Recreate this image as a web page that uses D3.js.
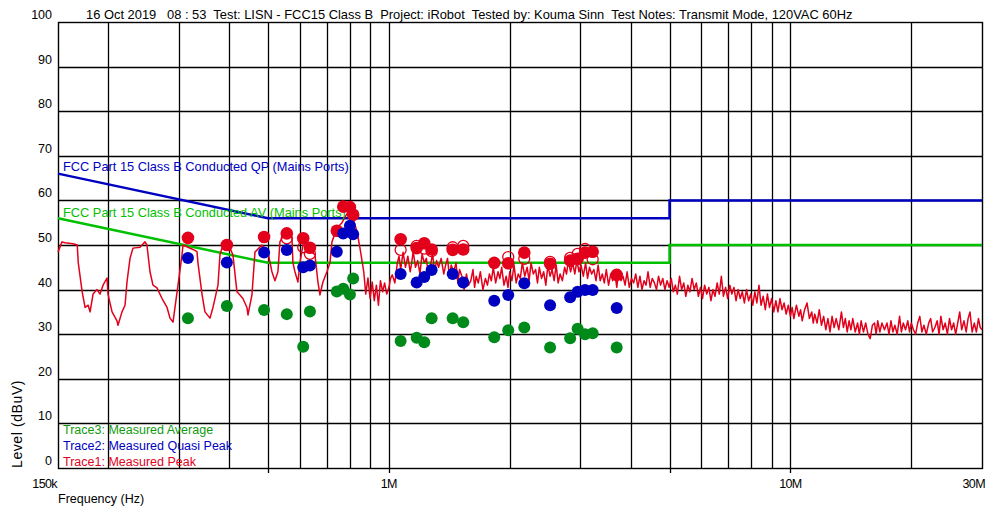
<!DOCTYPE html>
<html>
<head>
<meta charset="utf-8">
<script src="https://cdn.jsdelivr.net/npm/d3@7"></script>
<style>
  body { margin: 0; background: #fff; }
  svg text { font-family: "Liberation Sans", Arial, sans-serif; white-space: pre; }
</style>
</head>
<body>
<div id="chart"></div>
<script>
/// CONDUCTED EMISSIONS PLOT ///
const titleText =
  "16 Oct 2019   08 : 53  Test: LISN - FCC15 Class B  Project: iRobot  Tested by: Kouma Sinn  Test Notes: Transmit Mode, 120VAC 60Hz";

// axis ticks (MHz / dBuV)
const yTicks = [0, 10, 20, 30, 40, 50, 60, 70, 80, 90, 100];
const xGrid = [0.2, 0.3, 0.4, 0.5, 0.6, 0.7, 0.8, 0.9, 1, 2, 3, 4, 5, 6, 7, 8, 9, 10, 20];
const xTickLabels = [
  { f: 0.15, label: "150k" },
  { f: 1, label: "1M" },
  { f: 10, label: "10M" },
  { f: 30, label: "30M" },
];
const xTickMarks = [0.5, 1, 5, 10];

// limit lines
const qpLimitFreq = [0.15, 0.5, 5, 5, 30];
const qpLimitLevel = [66, 56, 56, 60, 60];
const avLimitFreq = [0.15, 0.5, 5, 5, 30];
const avLimitLevel = [56, 46, 46, 50, 50];

// Trace1 measured peak sweep, [MHz, dBuV]
const traceLow = [
  [0.15, 48.4], [0.1535, 50.7], [0.1561, 50.5], [0.1636, 50.3], [0.1675, 50.0], [0.1685, 46.0],
  [0.1723, 39.5], [0.1752, 36.0], [0.1783, 36.5], [0.1803, 35.0], [0.1834, 39.0], [0.1876, 40.0],
  [0.1909, 39.0], [0.1942, 41.0], [0.1987, 42.6], [0.1998, 39.0], [0.2045, 35.0], [0.2104, 33.0],
  [0.2116, 32.0], [0.2165, 35.0], [0.2203, 36.5], [0.2228, 41.7], [0.2267, 47.0], [0.2306, 49.3],
  [0.24, 49.5], [0.247, 50.7], [0.2498, 50.0], [0.2542, 44.0], [0.2586, 41.0], [0.2646, 40.4],
  [0.2724, 38.0], [0.2803, 36.0], [0.2851, 33.6], [0.2901, 32.7], [0.2934, 36.0], [0.2985, 41.0],
  [0.3054, 47.8], [0.3072, 50.0], [0.3161, 49.5], [0.3253, 49.0], [0.3328, 48.5], [0.3347, 46.0],
  [0.3425, 39.0], [0.3484, 35.0], [0.3586, 33.6], [0.3648, 36.0], [0.3754, 41.0], [0.3797, 47.8],
  [0.3841, 49.3], [0.393, 49.0], [0.4021, 49.3], [0.409, 47.8], [0.4185, 39.5], [0.4258, 38.8],
  [0.4331, 38.0], [0.4432, 36.0], [0.4458, 34.3], [0.4561, 38.8], [0.4641, 48.4], [0.483, 50.0],
  [0.4999, 48.4], [0.5115, 44.0], [0.5204, 42.0], [0.5294, 44.0], [0.5355, 50.7], [0.5448, 52.0],
  [0.5574, 51.5], [0.5671, 52.0], [0.5737, 51.6], [0.577, 46.0], [0.5836, 44.0], [0.5937, 41.7],
  [0.6006, 46.0], [0.611, 50.0], [0.6288, 50.0], [0.6434, 48.4], [0.6546, 47.8], [0.6659, 41.7],
  [0.6736, 38.8], [0.6853, 41.7], [0.7012, 44.0], [0.7134, 46.0], [0.7217, 50.7], [0.7427, 53.8],
  [0.7643, 55.0], [0.7912, 57.4], [0.8143, 56.0], [0.8331, 53.0], [0.8475, 49.3],
];
const traceMid = [
  [0.866, 44.0], [0.876, 39.0], [0.887, 42.6], [0.898, 38.0], [0.909, 41.7], [0.92, 37.5],
  [0.931, 41.0], [0.942, 36.5], [0.953, 42.0], [0.965, 39.5], [0.976, 41.5], [0.988, 39.0],
  [1.0, 40.4], [1.01, 42.5], [1.02, 43.3], [1.035, 41.5], [1.05, 46.0], [1.06, 47.5],
  [1.07, 44.5], [1.085, 48.4], [1.1, 45.0], [1.115, 47.5], [1.13, 44.0], [1.14, 46.0],
  [1.15, 48.6], [1.165, 45.0], [1.18, 46.5], [1.195, 43.5], [1.21, 48.0], [1.225, 46.0],
  [1.24, 47.0], [1.255, 43.0], [1.27, 45.5], [1.285, 48.0], [1.3, 44.0], [1.315, 46.5],
  [1.33, 45.0], [1.35, 47.0], [1.37, 43.5], [1.385, 45.5], [1.4, 47.0], [1.415, 43.0],
  [1.43, 45.5], [1.45, 44.0], [1.47, 46.0], [1.485, 41.5], [1.5, 44.5], [1.52, 43.0],
  [1.54, 40.0], [1.56, 43.5], [1.58, 41.0], [1.6, 42.0], [1.62, 44.5], [1.635, 40.5],
  [1.65, 43.0], [1.67, 41.5], [1.69, 44.0], [1.715, 40.0], [1.74, 42.5], [1.76, 41.0],
  [1.78, 43.5], [1.8, 42.0], [1.82, 45.0], [1.845, 41.5], [1.87, 44.0], [1.89, 42.5],
  [1.91, 45.0], [1.935, 41.0], [1.96, 43.0], [1.98, 40.5], [2.0, 44.0], [2.025, 42.0],
  [2.05, 45.5], [2.075, 41.5], [2.1, 43.5], [2.125, 42.5], [2.15, 46.0], [2.18, 43.0],
  [2.21, 45.0], [2.235, 42.0], [2.26, 46.0], [2.29, 43.5], [2.32, 44.5], [2.345, 41.5],
  [2.37, 45.0], [2.4, 42.5], [2.43, 44.0], [2.46, 41.0], [2.49, 45.5], [2.52, 43.0],
  [2.55, 44.5], [2.58, 42.0], [2.61, 45.5], [2.64, 41.5], [2.67, 43.5], [2.705, 42.0],
  [2.74, 45.0], [2.77, 43.5], [2.8, 46.5], [2.835, 44.0], [2.87, 46.0], [2.905, 43.5],
  [2.94, 46.5], [2.975, 44.0], [3.01, 45.5], [3.05, 43.0], [3.09, 46.0], [3.125, 42.5],
  [3.16, 45.0], [3.2, 43.5], [3.24, 44.5], [3.28, 42.0], [3.32, 45.5], [3.36, 42.0],
  [3.4, 43.5], [3.44, 41.5], [3.48, 44.5], [3.525, 41.0], [3.57, 43.5], [3.61, 42.0],
  [3.65, 44.0], [3.695, 40.5], [3.74, 44.5], [3.785, 42.0], [3.83, 43.0], [3.875, 41.0],
  [3.92, 44.0], [3.97, 40.5], [4.02, 42.5], [4.07, 41.5], [4.12, 43.5], [4.17, 40.5],
  [4.22, 43.0], [4.27, 40.0], [4.32, 42.0], [4.37, 41.0], [4.42, 44.0], [4.475, 40.5],
  [4.53, 42.5], [4.585, 41.5], [4.64, 40.0], [4.695, 43.0], [4.75, 41.0], [4.81, 42.5],
  [4.87, 40.0], [4.93, 42.0], [4.99, 40.5],
];
const traceHigh = [
  [5.05, 42.5], [5.11, 39.5], [5.17, 41.0], [5.23, 39.0], [5.295, 43.0], [5.36, 40.0],
  [5.425, 41.5], [5.49, 38.5], [5.555, 41.0], [5.62, 39.5], [5.69, 42.5], [5.76, 40.0],
  [5.83, 41.5], [5.9, 38.5], [5.97, 40.5], [6.04, 38.0], [6.115, 41.0], [6.19, 39.0],
  [6.265, 40.5], [6.34, 37.5], [6.415, 40.0], [6.49, 38.5], [6.57, 41.5], [6.65, 39.0],
  [6.73, 43.0], [6.81, 38.5], [6.895, 40.5], [6.98, 38.0], [7.065, 41.0], [7.15, 39.0],
  [7.235, 40.5], [7.32, 37.5], [7.41, 40.0], [7.5, 38.0], [7.59, 39.5], [7.68, 37.0],
  [7.775, 40.0], [7.87, 37.5], [7.965, 39.0], [8.06, 36.5], [8.155, 39.5], [8.25, 37.0],
  [8.35, 41.0], [8.45, 36.5], [8.555, 38.5], [8.66, 35.5], [8.765, 39.0], [8.87, 36.0],
  [8.98, 38.0], [9.09, 35.0], [9.2, 37.5], [9.31, 35.0], [9.42, 38.0], [9.53, 35.5],
  [9.645, 37.0], [9.76, 34.5], [9.88, 36.5], [10.0, 34.0], [10.1, 36.0], [10.2, 33.5],
  [10.35, 36.5], [10.5, 34.0], [10.6, 35.5], [10.7, 33.0], [10.85, 35.5], [11.0, 37.0],
  [11.15, 33.5], [11.3, 35.0], [11.4, 32.5], [11.5, 34.5], [11.65, 32.5], [11.8, 35.5],
  [11.95, 32.0], [12.1, 34.0], [12.25, 31.0], [12.4, 33.5], [12.55, 30.5], [12.7, 34.0],
  [12.85, 31.5], [13.0, 33.5], [13.2, 31.0], [13.4, 35.0], [13.55, 31.5], [13.7, 33.5],
  [13.85, 30.5], [14.0, 33.0], [14.15, 31.0], [14.3, 33.5], [14.5, 30.5], [14.7, 32.5],
  [14.85, 30.0], [15.0, 33.0], [15.2, 30.5], [15.4, 32.5], [15.6, 30.0], [15.8, 29.0],
  [16.0, 32.0], [16.2, 32.5], [16.35, 30.0], [16.5, 33.0], [16.7, 30.5], [16.9, 32.5],
  [17.15, 31.0], [17.4, 32.5], [17.6, 30.0], [17.8, 33.0], [18.0, 30.5], [18.2, 32.0],
  [18.45, 30.0], [18.7, 34.0], [18.9, 30.5], [19.1, 32.5], [19.35, 31.0], [19.6, 33.0],
  [19.8, 30.5], [20.0, 32.5], [20.25, 31.0], [20.5, 30.0], [20.75, 32.5], [21.0, 34.0],
  [21.25, 30.5], [21.5, 32.0], [21.8, 30.0], [22.1, 32.5], [22.35, 33.5], [22.6, 30.5],
  [22.9, 31.5], [23.2, 33.0], [23.45, 30.0], [23.7, 34.0], [24.0, 31.0], [24.3, 32.5],
  [24.6, 30.0], [24.9, 33.5], [25.2, 31.0], [25.5, 32.5], [25.8, 30.0], [26.1, 32.5],
  [26.4, 35.0], [26.7, 31.0], [27.05, 33.0], [27.4, 30.5], [27.7, 33.5], [28.0, 35.0],
  [28.35, 30.5], [28.7, 32.5], [29.05, 30.5], [29.4, 33.5], [29.7, 31.5], [30.0, 31.0],
];

// final measurement frequencies (MHz)
const markerFreq = [
  0.316, 0.395, 0.489, 0.557, 0.612, 0.636, 0.742, 0.77, 0.8, 0.815,
  1.07, 1.173, 1.225, 1.278, 1.442, 1.532, 1.83, 1.983, 2.174, 2.521,
  2.828, 2.952, 3.08, 3.218, 3.693,
];
const peakLevel = [
  51.6, 50.0, 51.8, 52.6, 51.5, 49.4, 53.2, 58.6, 58.5, 56.8,
  51.3, 49.3, 50.4, 49.0, 48.9, 49.0, 46.0, 45.9, 48.3, 45.8,
  46.5, 46.9, 48.3, 48.5, 43.3,
];
const qpLevel = [
  47.1, 46.1, 48.3, 48.9, 45.0, 45.4, 48.5, 52.6, 54.3, 52.4,
  43.5, 41.6, 42.8, 44.4, 43.5, 41.6, 37.5, 38.8, 41.4, 36.5,
  38.3, 39.5, 39.9, 39.9, 35.9,
];
const avLevel = [
  33.6, 36.3, 35.4, 34.5, 27.2, 35.1, 39.6, 40.2, 38.9, 42.5,
  28.5, 29.2, 28.2, 33.6, 33.6, 32.7, 29.3, 30.9, 31.5, 27.0,
  29.1, 31.2, 30.0, 30.2, 27.0,
];
// second peak readings drawn as open circles
const openPeakFreq = [0.557, 0.612, 0.636, 1.07, 1.173, 1.225, 1.278, 1.442, 1.532, 1.983, 2.174, 2.521, 2.828, 2.952, 3.08, 3.218];
const openPeakLevel = [51.5, 49.5, 48.0, 48.9, 49.8, 49.2, 48.6, 49.5, 49.8, 47.3, 46.9, 46.2, 47.1, 48.0, 49.1, 46.8];

const RED = "#e2001a";
const BLUE = "#0000c0";
const GREEN_LINE = "#00c000";
const GREEN_DOT = "#008a1a";

const width = 989;
const height = 512;
const plot = { left: 58, right: 982, top: 22, bottom: 468 };

const svg = d3
  .select("#chart")
  .append("svg")
  .attr("width", width)
  .attr("height", height)
  .style("display", "block");

svg.append("rect").attr("width", width).attr("height", height).attr("fill", "#fff");

// scales
const x = d3.scaleLog().domain([0.15, 30]).range([plot.left, plot.right]);
const y = d3.scaleLinear().domain([0, 100]).range([plot.bottom, plot.top]);

// grid
const grid = svg.append("g").attr("class", "grid");
grid
  .selectAll("line.v")
  .data(xGrid)
  .join("line")
  .attr("class", "v")
  .attr("x1", (d) => Math.round(x(d)) + 0.5)
  .attr("x2", (d) => Math.round(x(d)) + 0.5)
  .attr("y1", plot.top)
  .attr("y2", plot.bottom)
  .attr("stroke", "#000")
  .attr("stroke-width", 1.3);

grid
  .selectAll("line.h")
  .data(yTicks.filter((d) => d > 0 && d < 100))
  .join("line")
  .attr("class", "h")
  .attr("x1", plot.left)
  .attr("x2", plot.right)
  .attr("y1", (d) => Math.round(y(d)) + 0.5)
  .attr("y2", (d) => Math.round(y(d)) + 0.5)
  .attr("stroke", "#000")
  .attr("stroke-width", 1.3);

// small ticks under the frame
grid
  .selectAll("line.t")
  .data(xTickMarks)
  .join("line")
  .attr("class", "t")
  .attr("x1", (d) => Math.round(x(d)) + 0.5)
  .attr("x2", (d) => Math.round(x(d)) + 0.5)
  .attr("y1", plot.bottom)
  .attr("y2", plot.bottom + 5)
  .attr("stroke", "#000")
  .attr("stroke-width", 1.3);

// frame
svg
  .append("rect")
  .attr("x", plot.left + 0.5)
  .attr("y", plot.top + 0.5)
  .attr("width", plot.right - plot.left)
  .attr("height", plot.bottom - plot.top)
  .attr("fill", "none")
  .attr("stroke", "#000")
  .attr("stroke-width", 1.4);

// y tick labels sit just above their grid line
svg
  .append("g")
  .selectAll("text")
  .data(yTicks)
  .join("text")
  .attr("x", 52)
  .attr("y", (d) => y(d) - 3)
  .attr("text-anchor", "end")
  .attr("font-size", "12.5px")
  .attr("fill", "#000")
  .text((d) => d);

// x tick labels
svg
  .append("g")
  .selectAll("text")
  .data(xTickLabels)
  .join("text")
  .attr("x", (d) => (d.f === 0.15 ? plot.left - 1 : d.f === 30 ? plot.right + 3 : x(d.f)))
  .attr("y", 488)
  .attr("text-anchor", (d) => (d.f === 0.15 || d.f === 30 ? "end" : "middle"))
  .attr("font-size", "12.5px")
  .attr("letter-spacing", "-0.6px")
  .text((d) => d.label);

svg
  .append("text")
  .attr("x", plot.left)
  .attr("y", 503)
  .attr("font-size", "12.5px")
  .text("Frequency (Hz)");

svg
  .append("text")
  .attr("transform", `translate(22,${plot.bottom}) rotate(-90)`)
  .attr("font-size", "14px")
  .attr("letter-spacing", "0.6px")
  .text("Level (dBuV)");

// title
svg
  .append("text")
  .attr("x", 86)
  .attr("y", 19)
  .attr("font-size", "12.9px")
  .text(titleText);

// limit lines
const lineGen = d3
  .line()
  .x((d) => x(d[0]))
  .y((d) => y(d[1]));

svg
  .append("path")
  .datum(avLimitFreq.map((f, i) => [f, avLimitLevel[i]]))
  .attr("d", lineGen)
  .attr("fill", "none")
  .attr("stroke", GREEN_LINE)
  .attr("stroke-width", 2.5);

svg
  .append("path")
  .datum(qpLimitFreq.map((f, i) => [f, qpLimitLevel[i]]))
  .attr("d", lineGen)
  .attr("fill", "none")
  .attr("stroke", BLUE)
  .attr("stroke-width", 2.5);

// Trace1 sweep
svg
  .append("path")
  .datum(traceLow.concat(traceMid, traceHigh))
  .attr("d", lineGen)
  .attr("fill", "none")
  .attr("stroke", RED)
  .attr("stroke-width", 1.5)
  .attr("stroke-linejoin", "round");

// limit labels
svg
  .append("text")
  .attr("x", 63)
  .attr("y", 171)
  .attr("font-size", "12.8px")
  .attr("fill", BLUE)
  .text("FCC Part 15 Class B Conducted QP (Mains Ports)");

svg
  .append("text")
  .attr("x", 63)
  .attr("y", 217)
  .attr("font-size", "12.8px")
  .attr("fill", GREEN_LINE)
  .text("FCC Part 15 Class B Conducted AV (Mains Ports)");

// markers
const markers = svg.append("g").attr("class", "markers");

markers
  .selectAll("circle.av")
  .data(markerFreq.map((f, i) => [f, avLevel[i]]))
  .join("circle")
  .attr("class", "av")
  .attr("cx", (d) => x(d[0]))
  .attr("cy", (d) => y(d[1]))
  .attr("r", 6)
  .attr("fill", GREEN_DOT);

markers
  .selectAll("circle.open")
  .data(openPeakFreq.map((f, i) => [f, openPeakLevel[i]]))
  .join("circle")
  .attr("class", "open")
  .attr("cx", (d) => x(d[0]))
  .attr("cy", (d) => y(d[1]))
  .attr("r", 5.5)
  .attr("fill", "none")
  .attr("stroke", RED)
  .attr("stroke-width", 1.3);

markers
  .selectAll("circle.pk")
  .data(markerFreq.map((f, i) => [f, peakLevel[i]]))
  .join("circle")
  .attr("class", "pk")
  .attr("cx", (d) => x(d[0]))
  .attr("cy", (d) => y(d[1]))
  .attr("r", 6.3)
  .attr("fill", RED);

markers
  .selectAll("circle.qp")
  .data(markerFreq.map((f, i) => [f, qpLevel[i]]))
  .join("circle")
  .attr("class", "qp")
  .attr("cx", (d) => x(d[0]))
  .attr("cy", (d) => y(d[1]))
  .attr("r", 6)
  .attr("fill", BLUE);

// legend
const legendItems = [
  { label: "Trace3: Measured Average", color: "#109a10" },
  { label: "Trace2: Measured Quasi Peak", color: BLUE },
  { label: "Trace1: Measured Peak", color: RED },
];

svg
  .append("g")
  .selectAll("text")
  .data(legendItems)
  .join("text")
  .attr("x", 63)
  .attr("y", (d, i) => 434 + i * 16)
  .attr("font-size", "12.5px")
  .attr("fill", (d) => d.color)
  .text((d) => d.label);
</script>
</body>
</html>
